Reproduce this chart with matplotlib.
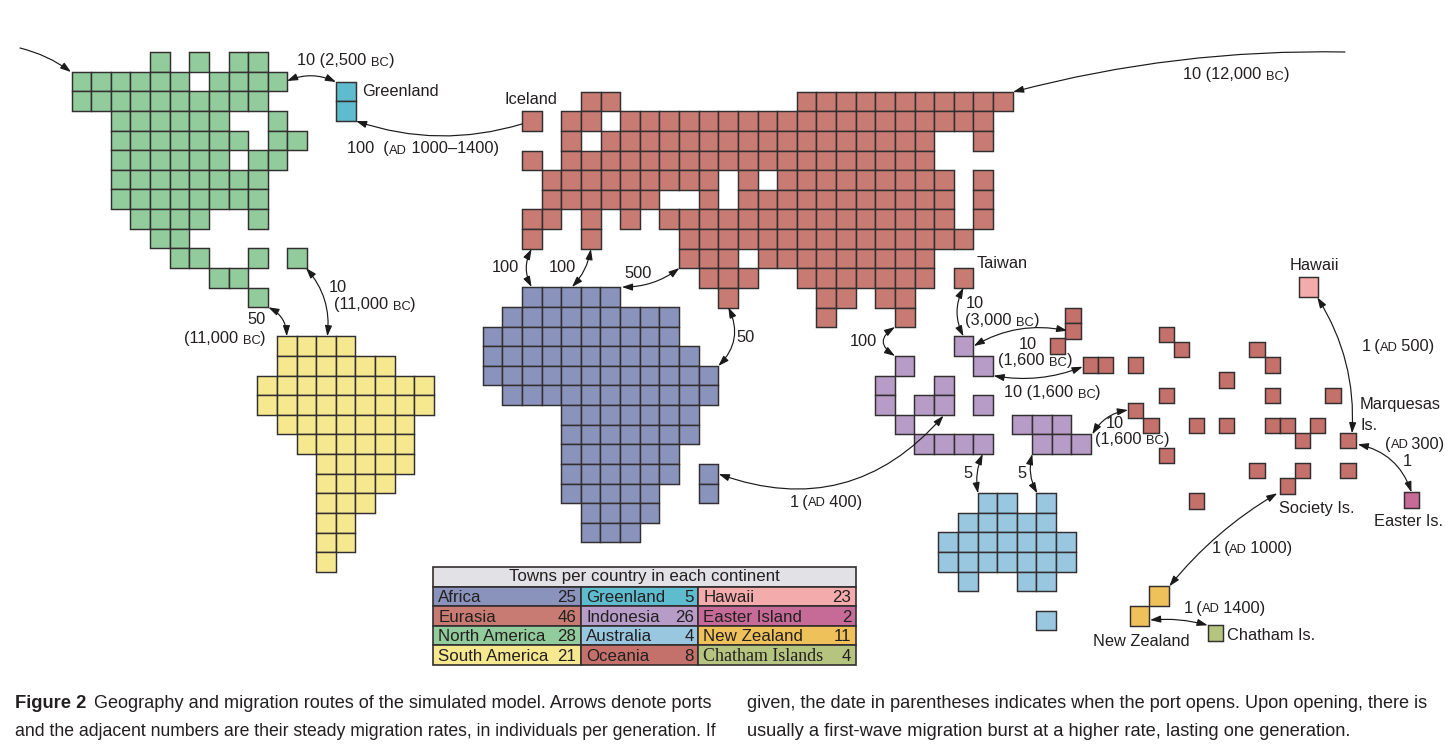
import matplotlib
matplotlib.use("Agg")
import matplotlib.pyplot as plt
from matplotlib.patches import Rectangle, FancyArrowPatch

r = lambda a, b: list(range(a, b + 1))

# ---------- data: cells per map row ----------
NORTH_AMERICA = {0: [4, 6, 8, 9], 1: r(0, 5) + [7, 8, 9, 10], 2: r(0, 9), 3: r(2, 7) + [10],
                 4: r(2, 8) + [10, 11], 5: r(2, 7) + [9, 10], 6: r(2, 9), 7: r(2, 9),
                 8: r(3, 6) + [9], 9: [4, 5], 10: [5, 6, 9, 11], 11: [7, 8], 12: [9]}
SOUTH_AMERICA = {0: r(1, 4), 1: r(1, 6), 2: r(0, 8), 3: r(0, 8), 4: r(1, 7), 5: r(2, 7),
                 6: r(3, 7), 7: r(3, 6), 8: r(3, 5), 9: [3, 4], 10: [3, 4], 11: [3]}
EURASIA = {0: [3, 4] + r(14, 24), 1: [0, 2, 3] + r(5, 23), 2: [2] + r(4, 20) + [23],
           3: [0] + r(2, 20), 4: r(1, 9) + [11] + r(13, 21) + [23],
           5: r(1, 6) + [9] + r(11, 21) + [23], 6: [0, 1, 3, 5] + r(7, 21) + [23],
           7: [0, 3] + r(8, 22), 8: [8, 9, 10] + r(12, 20), 9: [9, 10, 11] + r(14, 20) + [22],
           10: [10, 15, 16, 18, 19], 11: [15, 19]}
AFRICA = {0: r(2, 6), 1: r(1, 9), 2: r(0, 9), 3: r(0, 10), 4: r(0, 11), 5: r(1, 11),
          6: r(4, 10), 7: r(4, 10), 8: r(4, 9), 9: r(4, 9) + [11], 10: r(4, 8) + [11],
          11: r(5, 8), 12: r(5, 7)}
INDONESIA = {0: [4], 1: [1, 5], 2: [0, 3], 3: [0, 2, 3, 5], 4: [1, 7, 8, 9],
             5: [2, 3, 4, 5, 8, 9, 10]}
AUSTRALIA = {0: [2, 3, 5], 1: r(1, 5), 2: r(0, 6), 3: r(0, 6), 4: [1, 4, 5], 6: [5]}
GREENLAND = {0: [0], 1: [0]}
NEW_ZEALAND = {0: [1], 1: [0]}
HAWAII = {0: [0]}
EASTER = {0: [0]}
CHATHAM = {0: [0]}
OCEANIA = [(-1.15, -1.25), (-1.15, -0.25), (-2.16, 0.75), (5, 0), (6, 1), (11, 1), (12, 2),
           (0, 2), (1, 2), (3, 2), (9, 3), (5, 4), (12, 4), (16, 4), (3, 5), (4, 6), (7, 6),
           (9, 6), (12, 6), (13, 6), (15, 6), (14, 7), (17, 7), (5, 8), (11, 9), (14, 9),
           (17, 9), (13, 10), (7, 11)]

TABLE_TITLE = "Towns per country in each continent"
TABLE_NAMES = [["Africa", "Eurasia", "North America", "South America"],
               ["Greenland", "Indonesia", "Australia", "Oceania"],
               ["Hawaii", "Easter Island", "New Zealand", "Chatham Islands"]]
TABLE_VALUES = [[25, 46, 28, 21], [5, 26, 4, 8], [23, 2, 11, 4]]

# ---------- style ----------
COL = {"Africa": "#8a93bb", "Eurasia": "#c77b72", "North America": "#93cc9c",
       "South America": "#f6e88f", "Greenland": "#5fbccf", "Indonesia": "#b79cc8",
       "Australia": "#99c7e0", "Oceania": "#c4716b", "Hawaii": "#f4abab",
       "Easter Island": "#c66b97", "New Zealand": "#eec15a", "Chatham Islands": "#b5c47f"}
EDGE = "#332e30"
P = 19.63

fig = plt.figure(figsize=(14.56, 7.52), dpi=100)
ax = fig.add_axes([0, 0, 1, 1])
ax.set_xlim(0, 1456)
ax.set_ylim(752, 0)
ax.axis("off")
plt.rcParams["font.family"] = ["Liberation Sans", "DejaVu Sans"]


def grid(cells, name, x0, y0, p=P, q=None):
    q = q or p
    for row, cols in cells.items():
        for c in cols:
            ax.add_patch(Rectangle((x0 + c * p, y0 + row * q), p, q, fc=COL[name],
                                   ec=EDGE, lw=1.05, zorder=2))


grid(NORTH_AMERICA, "North America", 71.5, 52)
grid(SOUTH_AMERICA, "South America", 257.3, 336.3)
grid(EURASIA, "Eurasia", 522, 91.7)
grid(AFRICA, "Africa", 482.7, 287.3)
grid(INDONESIA, "Indonesia", 875, 336.3)
grid(AUSTRALIA, "Australia", 938.3, 493)
grid(GREENLAND, "Greenland", 336, 81.7, 19.6, 19.5)
grid(NEW_ZEALAND, "New Zealand", 1129.8, 586.3)
grid(HAWAII, "Hawaii", 1298.5, 277.3, 19.8)
grid(EASTER, "Easter Island", 1403.6, 492.3, 15.4)
grid(CHATHAM, "Chatham Islands", 1207.8, 625.3, 15.5)
for c, rw in OCEANIA:
    ax.add_patch(Rectangle((1082.7 + c * 15.16, 327 + rw * 15.13), 15.3, 15.3,
                           fc=COL["Oceania"], ec=EDGE, lw=1.05, zorder=2))

# ---------- arrows: start, end, curvature, heads ----------
ARROWS = [
    (20, 48, 71, 72, -0.1, "-|>"), (287, 81, 336, 82, -0.22, "<|-|>"),
    (522, 124, 356, 121, -0.16, "-|>"), (1345, 52, 1013, 92, 0.07, "-|>"),
    (531.6, 249, 531.6, 287, 0.26, "<|-|>"), (590.9, 249, 572, 287, -0.15, "<|-|>"),
    (679.4, 268, 621.9, 287, -0.17, "<|-|>"), (728.3, 307.3, 718.3, 366, -0.35, "<|-|>"),
    (268.3, 307.3, 286.7, 336.3, -0.3, "<|-|>"), (306, 268, 327.3, 336.3, -0.22, "<|-|>"),
    (895, 327, 895, 356, 0.76, "<|-|>"), (963.5, 287.7, 963.5, 336.3, 0.25, "<|-|>"),
    (973.8, 346, 1067.3, 330.7, -0.19, "<|-|>"), (993.5, 375.7, 1082.7, 366.7, 0.14, "<|-|>"),
    (1092.3, 434.3, 1128, 410, -0.23, "<|-|>"), (718.7, 474, 943.5, 415.7, 0.34, "<|-|>"),
    (982.7, 454, 978, 493.3, 0.15, "<|-|>"), (1032.3, 454, 1037.3, 493.3, 0.2, "<|-|>"),
    (1317.3, 297.3, 1352, 433.3, -0.16, "<|-|>"), (1357.7, 444.3, 1411.5, 492.3, -0.28, "<|-|>"),
    (1277.3, 493.3, 1169.3, 586.3, 0.09, "<|-|>"), (1150, 620, 1207.7, 625.3, -0.09, "<|-|>"),
]
for x1, y1, x2, y2, rad, st in ARROWS:
    ax.add_patch(FancyArrowPatch((x1, y1), (x2, y2), connectionstyle=f"arc3,rad={rad}",
                                 arrowstyle=f"{st},head_length=0.45,head_width=0.15",
                                 mutation_scale=14, lw=0.85, color="#1a1a1a",
                                 shrinkA=0, shrinkB=0, zorder=3))

# ---------- labels (~X~ marks small capitals) ----------
rend = fig.canvas.get_renderer()
FS, SC = 11.8, 9.3
INK = "#231f20"


def width(s, size, **kw):
    t = ax.text(0, 0, s + "|", fontsize=size, **kw)
    b = ax.text(0, 0, "|", fontsize=size, **kw)
    w = t.get_window_extent(rend).width - b.get_window_extent(rend).width
    t.remove(); b.remove()
    return w


def label(x, y, s):
    for i, part in enumerate(s.split("~")):
        if not part:
            continue
        size = SC if i % 2 else FS
        ax.text(x, y + 5.5, part, fontsize=size, color=INK, va="baseline", ha="left", zorder=4)
        x += width(part, size)


T = "\u2009"
LABELS = [
    (297, 60, "10 (2,500 ~BC~)"), (362, 91, "Greenland"), (347, 148, "100  (~AD~ 1000–1400)"),
    (504, 99, "Iceland"), (1183, 74, "10 (12,000 ~BC~)"), (492, 267, "100"), (549, 266, "100"),
    (624, 272, "500"), (736, 336, "50"), (247, 318, "50"), (184, 338, "(11,000 ~BC~)"),
    (329, 286, "10"), (334, 304, "(11,000 ~BC~)"), (977, 262, "Taiwan"), (850, 341, "100"),
    (966, 302, "10"), (965, 320, "(3,000 ~BC~)"), (1019, 343.5, "10"), (998.5, 360, "(1,600 ~BC~)"),
    (1004, 392, "10 (1,600 ~BC~)"), (1106, 423, "10"), (1095, 438.5, "(1,600 ~BC~)"),
    (790, 501, f"1{T}(~AD~{T}400)"), (963, 473, "5"), (1017, 473, "5"), (1289.5, 265, "Hawaii"),
    (1362, 345.5, f"1{T}(~AD~{T}500)"), (1360, 404, "Marquesas"), (1360, 425, "Is."),
    (1385, 443, f"(~AD~{T}300)"), (1402.5, 460, "1"), (1279, 507, "Society Is."),
    (1374, 520, "Easter Is."), (1211.5, 547.5, f"1{T}(~AD~{T}1000)"),
    (1184, 607, f"1{T}(~AD~{T}1400)"), (1093, 640, "New Zealand"), (1227, 635, "Chatham Is."),
]
for x, y, s in LABELS:
    label(x, y, s)

# ---------- table ----------
TS = 12.2
TX = [433.3, 581, 698.3, 855.7]
TY = [586.7, 606.2, 625.8, 645.4, 665]
ax.add_patch(Rectangle((TX[0], 566.7), TX[3] - TX[0], TY[0] - 566.7, fc="#e2e2e6", ec=EDGE, lw=1.2))
ax.text((TX[0] + TX[3]) / 2, 576.6, TABLE_TITLE, fontsize=TS, color=INK, ha="center", va="center")
for j, (names, vals) in enumerate(zip(TABLE_NAMES, TABLE_VALUES)):
    for i, (n, v) in enumerate(zip(names, vals)):
        ax.add_patch(Rectangle((TX[j], TY[i]), TX[j + 1] - TX[j], TY[i + 1] - TY[i],
                               fc=COL[n], ec=EDGE, lw=1.2))
        serif = n == "Chatham Islands"
        kw = {"family": "Liberation Serif"} if serif else {}
        ax.text(TX[j] + 5, (TY[i] + TY[i + 1]) / 2 + 5.6, n, fontsize=12.9 if serif else TS,
                color=INK, va="baseline", **kw)
        ax.text(TX[j + 1] - 4.5, (TY[i] + TY[i + 1]) / 2 + 5.6, str(v), fontsize=TS, color=INK,
                ha="right", va="baseline")

# ---------- caption (each line sized to its measured width) ----------


def caption(x0, x1, y, s, **kw):
    ax.text(x0, y, s, fontsize=12 * (x1 - x0) / width(s, 12, **kw), color=INK,
            va="baseline", **kw)


caption(15, 86, 708, "Figure 2", fontweight="bold")
caption(94, 717, 708, "Geography and migration routes of the simulated model. Arrows denote ports")
caption(15, 717, 736, "and the adjacent numbers are their steady migration rates, in individuals per generation. If")
caption(747, 1431, 708, "given, the date in parentheses indicates when the port opens. Upon opening, there is")
caption(747, 1353, 736, "usually a first-wave migration burst at a higher rate, lasting one generation.")

fig.savefig("out.png", dpi=100, facecolor="white")
